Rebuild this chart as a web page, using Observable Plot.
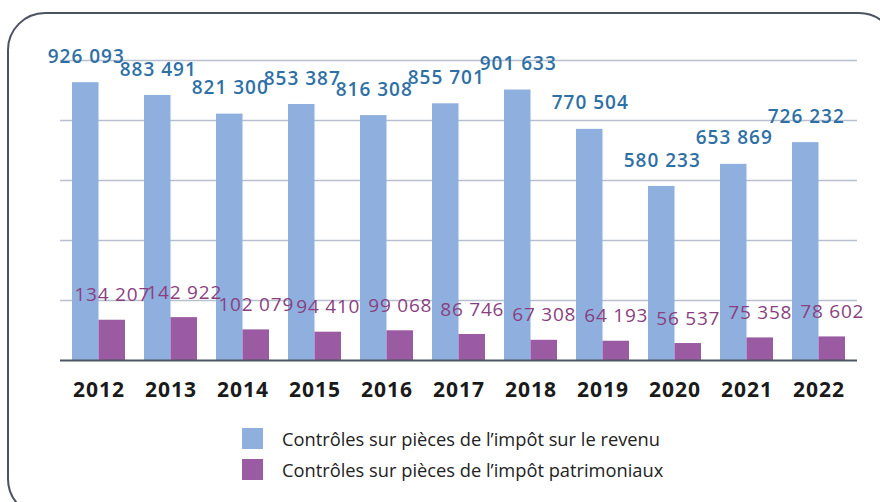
<!DOCTYPE html>
<html><head><meta charset="utf-8">
<script src="https://cdn.jsdelivr.net/npm/d3@7"></script>
<script src="https://cdn.jsdelivr.net/npm/@observablehq/plot@0.6"></script>
<style>
html,body{margin:0;padding:0;background:#fff;}
body{width:880px;height:502px;overflow:hidden;position:relative;font-family:"Open Sans",sans-serif;}
#frame{position:absolute;left:7px;top:12px;width:890px;height:505px;border:2.5px solid #4b5261;border-radius:38px;box-sizing:border-box;}
#chart{position:absolute;left:0;top:0;}
.lbl-blue text{letter-spacing:1px;}
.lbl-purple text{letter-spacing:0.8px;}
.yr text{letter-spacing:1px;}
#legend{position:absolute;left:242px;top:428px;}
.item{display:flex;align-items:center;height:21px;margin-bottom:10px;font-size:18.3px;color:#222;white-space:nowrap;}
.sw{width:21px;height:21px;margin-right:19px;flex:none;}
</style>
</head><body>
<div id="frame"></div>
<div id="chart"></div>
<div id="legend"></div>
<script>
const years = ["2012","2013","2014","2015","2016","2017","2018","2019","2020","2021","2022"];
const revenu = [926093, 883491, 821300, 853387, 816308, 855701, 901633, 770504, 580233, 653869, 726232];
const patrimoniaux = [134207, 142922, 102079, 94410, 99068, 86746, 67308, 64193, 56537, 75358, 78602];
const seriesNames = ["Contrôles sur pièces de l’impôt sur le revenu", "Contrôles sur pièces de l’impôt patrimoniaux"];
const seriesColors = ["#8fb0df", "#9a5ba3"];
const labelColors = ["#2e70a6", "#8a3f80"];
const yTicks = [0, 200000, 400000, 600000, 800000, 1000000];

const dataR = years.map((y, i) => ({year: y, value: revenu[i], series: seriesNames[0]}));
const dataP = years.map((y, i) => ({year: y, value: patrimoniaux[i], series: seriesNames[1]}));

const W = 880, H = 410, mL = 60, mR = 23, mT = 60, mB = 50;
const pIn = 0.268, pOut = 0.14;
const step = (W - mL - mR) / (years.length - pIn + 2 * pOut);
const half = step * (1 - pIn) / 2;
const fmt = v => d3.format(",")(v).replace(/,/g, " ");

const chart = Plot.plot({
  width: W, height: H,
  marginLeft: mL, marginRight: mR, marginTop: mT, marginBottom: mB,
  x: {type: "band", domain: years, paddingInner: pIn, paddingOuter: pOut, label: null},
  y: {domain: [0, 1000000], axis: null},
  color: {domain: seriesNames, range: seriesColors},
  style: {fontFamily: "'Open Sans', sans-serif", background: "transparent", overflow: "visible"},
  marks: [
    Plot.ruleY(yTicks.slice(1), {stroke: "#b9c0cd", strokeWidth: 1.5}),
    Plot.barY(dataR, {x: "year", y: "value", fill: "series", insetRight: half}),
    Plot.barY(dataP, {x: "year", y: "value", fill: "series", insetLeft: half}),
    Plot.ruleY([0], {stroke: "#4d5563", strokeWidth: 2}),
    Plot.text(dataR, {x: "year", y: "value", text: d => fmt(d.value), dx: -half / 2 + 0.5, dy: -26,
      fill: labelColors[0], fontSize: 19, fontWeight: 600, className: "lbl-blue"}),
    Plot.text(dataP, {x: "year", y: "value", text: d => fmt(d.value), dx: half / 2, dy: -25,
      fill: labelColors[1], fontSize: 19, fontWeight: 400, className: "lbl-purple"}),
    Plot.axisX({tickSize: 0, tickPadding: 22, fontSize: 21, fontWeight: 700, color: "#1a1a1a", label: null, className: "yr"})
  ]
});
document.getElementById("chart").appendChild(chart);

const legend = document.getElementById("legend");
seriesNames.forEach((name, i) => {
  const item = document.createElement("div");
  item.className = "item";
  const sw = document.createElement("div");
  sw.className = "sw";
  sw.style.background = seriesColors[i];
  const t = document.createElement("span");
  t.textContent = name;
  item.appendChild(sw);
  item.appendChild(t);
  legend.appendChild(item);
});
</script>
</body></html>
